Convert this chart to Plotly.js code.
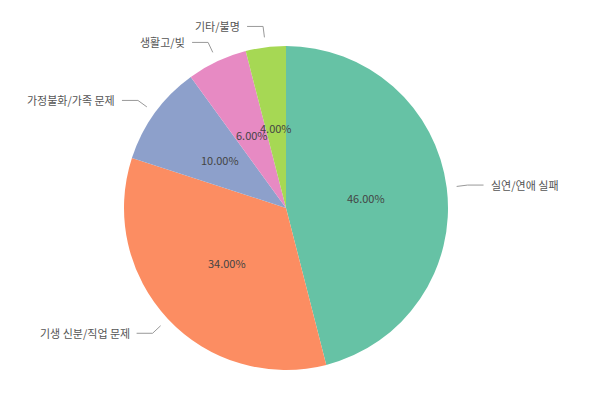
<!DOCTYPE html>
<html><head><meta charset="utf-8">
<script src="https://cdn.plot.ly/plotly-3.0.1.min.js"></script>
<style>html,body{margin:0;padding:0;background:#fff}</style>
</head><body><div id="chart" style="width:600px;height:417px"></div>
<script>
const categories = ["실연/연애 실패", "기생 신분/직업 문제", "가정불화/가족 문제", "생활고/빚", "기타/불명"];
const values = [46, 34, 10, 6, 4];
const colors = ["#66c2a5", "#fc8d62", "#8da0cb", "#e78ac3", "#a6d854"];

const W = 600, H = 417;
const cx = 286, cy = 208, R = 162;
const font = "'Noto Sans CJK KR', 'Noto Sans', sans-serif";

const total = values.reduce((a, b) => a + b, 0);
const px = x => x / W, py = y => 1 - y / H;

const annotations = [], shapes = [];
let cum = 0;
values.forEach((v, i) => {
  const mid = (cum + v / 2) / total * 2 * Math.PI;
  cum += v;
  const s = Math.sin(mid), c = Math.cos(mid);
  // percent inside
  annotations.push({
    x: px(cx + s * R * 0.5), y: py(cy - c * R * 0.5), xref: 'paper', yref: 'paper',
    text: (v / total * 100).toFixed(2) + '%', showarrow: false,
    font: {family: font, size: 11, color: '#444'}, xanchor: 'center', yanchor: 'middle'
  });
  // leader line
  const x1 = cx + s * (R + 10), y1 = cy - c * (R + 10);
  const x2 = cx + s * (R + 21), y2 = cy - c * (R + 21);
  const dir = s >= 0 ? 1 : -1;
  const x3 = x2 + dir * 16;
  shapes.push({
    type: 'path', xref: 'paper', yref: 'paper',
    path: `M ${px(x1)} ${py(y1)} L ${px(x2)} ${py(y2)} L ${px(x3)} ${py(y2)}`,
    line: {color: '#999', width: 1}
  });
  annotations.push({
    x: px(x3 + dir * 5), y: py(y2), xref: 'paper', yref: 'paper',
    text: categories[i], showarrow: false,
    font: {family: font, size: 11, color: '#555'},
    xanchor: dir > 0 ? 'left' : 'right', yanchor: 'middle'
  });
});

const trace = {
  type: 'pie', labels: categories, values: values, sort: false,
  direction: 'clockwise', rotation: 0,
  marker: {colors: colors, line: {width: 0}},
  textinfo: 'none', hoverinfo: 'label+percent',
  domain: {x: [(cx - R) / W, (cx + R) / W], y: [1 - (cy + R) / H, 1 - (cy - R) / H]}
};

Plotly.newPlot('chart', [trace], {
  width: W, height: H, margin: {l: 0, r: 0, t: 0, b: 0},
  showlegend: false, paper_bgcolor: '#fff',
  annotations: annotations, shapes: shapes
}, {displayModeBar: false, staticPlot: true});
</script></body></html>
